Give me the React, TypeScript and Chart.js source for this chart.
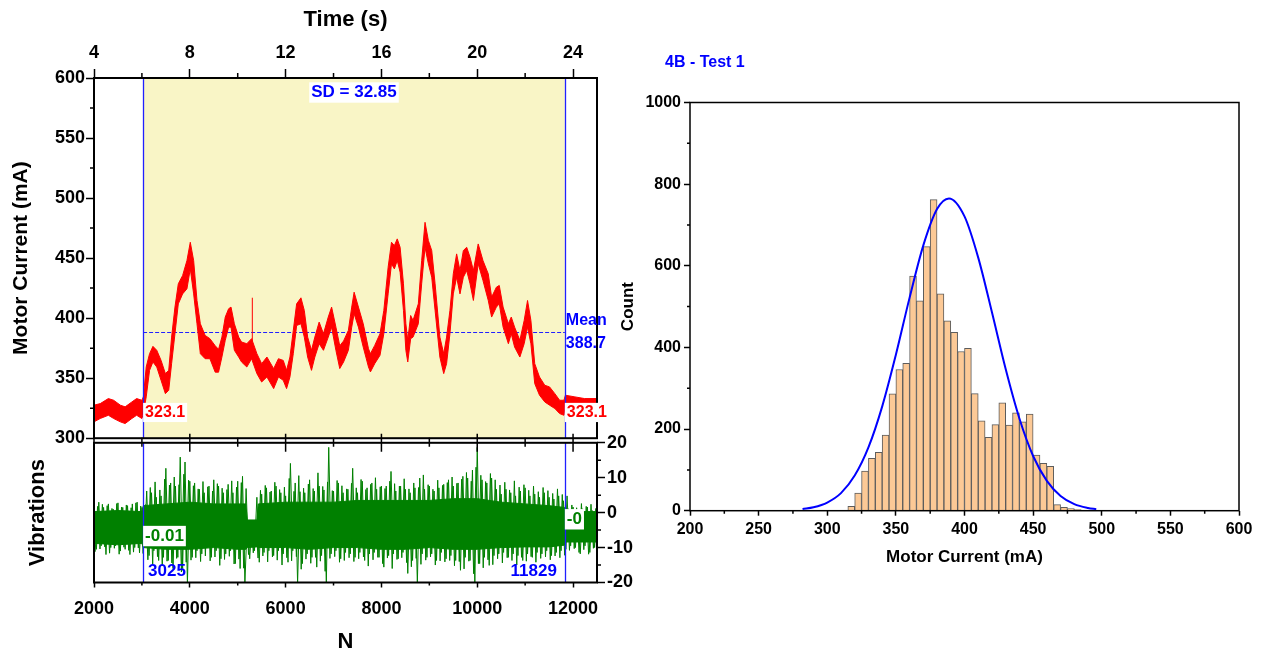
import React, { useEffect, useRef } from "react";
import { Chart, registerables } from "chart.js";

Chart.register(...registerables);

const FONT = "'Liberation Sans', Arial, Helvetica, sans-serif";
Chart.defaults.font.family = FONT;
Chart.defaults.color = "#000";

// ---------------- Top-left: motor current vs N (noisy band: upper / lower envelope) ----------------
const currentN = [
  2000, 2130, 2300, 2410, 2550, 2650, 2790, 2890, 3000, 3030,
  3090, 3160, 3230, 3310, 3400, 3490, 3560, 3620, 3690, 3760,
  3850, 3940, 4010, 4080, 4150, 4220, 4320, 4420, 4530, 4600,
  4670, 4740, 4810, 4860, 4930, 5020, 5080, 5190, 5290, 5400,
  5500, 5610, 5750, 5850, 5950, 6020, 6090, 6160, 6230, 6320,
  6390, 6460, 6540, 6610, 6700, 6790, 6890, 6960, 7050, 7130,
  7210, 7310, 7380, 7430, 7520, 7620, 7730, 7770, 7860, 7970,
  8050, 8140, 8210, 8270, 8330, 8390, 8460, 8510, 8550, 8610,
  8660, 8770, 8840, 8910, 8980, 9050, 9120, 9220, 9300, 9360,
  9430, 9500, 9570, 9640, 9710, 9780, 9850, 9920, 10020, 10120,
  10230, 10300, 10400, 10460, 10540, 10650, 10710, 10780, 10890, 10980,
  11050, 11120, 11200, 11300, 11410, 11510, 11620, 11720, 11810, 11840,
  12040, 12240, 12500,
];
const currentUpper = [
  327.5, 328.8, 333.0, 331.6, 327.5, 326.1, 330.2, 333.0, 331.6, 334.4,
  359.3, 370.4, 376.5, 373.2, 364.8, 353.8, 356.5, 384.2, 409.2, 428.6,
  435.5, 447.9, 463.2, 447.9, 414.7, 395.3, 385.6, 382.9, 377.0, 374.0,
  384.2, 400.9, 407.8, 409.2, 395.3, 384.2, 380.1, 378.7, 382.9, 370.4,
  362.1, 367.6, 357.9, 366.2, 364.8, 356.5, 367.6, 389.8, 411.9, 416.9,
  406.4, 384.2, 373.2, 384.2, 396.7, 387.0, 400.9, 409.2, 392.5, 377.0,
  381.0, 389.8, 409.2, 421.6, 409.2, 395.3, 374.5, 370.4, 377.3, 387.0,
  406.4, 442.4, 463.2, 460.4, 466.0, 459.0, 428.6, 395.3, 381.5, 402.2,
  398.1, 411.9, 447.9, 479.8, 464.6, 456.3, 428.6, 384.2, 370.4, 384.2,
  406.4, 436.9, 453.5, 439.6, 456.3, 459.0, 450.7, 439.6, 461.8, 447.9,
  436.9, 417.5, 425.8, 427.2, 409.2, 395.3, 400.9, 392.5, 381.5, 398.1,
  414.7, 398.1, 362.1, 351.0, 344.1, 342.7, 337.1, 331.6, 331.6, 335.8,
  334.4, 333.0, 333.0,
];
const currentLower = [
  313.6, 316.4, 319.1, 316.4, 313.6, 312.2, 316.4, 319.1, 316.4, 320.5,
  334.4, 356.5, 363.5, 359.3, 348.2, 337.1, 339.9, 362.1, 387.0, 411.9,
  420.2, 424.4, 441.0, 420.2, 395.3, 370.4, 366.2, 366.2, 355.0, 355.0,
  367.6, 381.5, 392.5, 392.5, 373.2, 367.6, 363.5, 359.3, 366.2, 353.8,
  346.8, 351.0, 341.3, 351.0, 348.2, 341.3, 351.0, 370.4, 393.9, 395.3,
  384.2, 367.6, 356.5, 367.6, 378.7, 373.2, 384.2, 392.5, 373.2, 358.0,
  363.5, 373.2, 392.5, 403.6, 392.5, 375.9, 359.3, 355.2, 362.1, 369.0,
  387.0, 420.2, 445.2, 441.0, 448.0, 438.3, 406.4, 373.2, 363.5, 382.9,
  384.2, 395.3, 428.6, 459.0, 445.2, 434.1, 406.4, 367.6, 353.8, 362.1,
  387.0, 420.2, 434.1, 420.2, 434.1, 439.6, 428.6, 414.7, 445.2, 431.3,
  414.7, 400.9, 409.2, 411.9, 392.5, 378.7, 387.0, 375.9, 367.6, 378.7,
  392.5, 378.7, 345.5, 335.8, 330.2, 327.5, 324.7, 320.5, 319.1, 328.8,
  328.8, 328.8, 328.8,
];
const spikeN = 5305;
const spikeRange = [380, 417];

const cursorStartN = 3025;
const cursorEndN = 11829;
const meanCurrent = 388.7;
const sdCurrent = 32.85;
const edgeCurrent = 323.1;

const timeTicks = [4, 8, 12, 16, 20, 24];
const timeMinor = [6, 10, 14, 18, 22];
const currentTicks = [300, 350, 400, 450, 500, 550, 600];
const currentMinor = [325, 375, 425, 475, 525, 575];
const nTicks = [2000, 4000, 6000, 8000, 10000, 12000];
const nMinor = [3000, 5000, 7000, 9000, 11000];

// ---------------- Bottom-left: vibrations vs N ----------------
// dense core of the signal
const vibCoreN = [2000, 2500, 3000, 3030, 3500, 4000, 4500, 5000, 5170, 5200, 5400, 5430, 6000, 6500, 7000, 7500, 8000, 8500, 9000, 9500, 10000, 10500, 11000, 11500, 11820, 11840, 12500];
const vibCoreTop = [0.3, 0.6, 0.3, 2.0, 2.5, 3.0, 2.5, 2.5, 2.5, -2.1, -2.1, 2.5, 3.0, 3.0, 3.0, 3.5, 3.5, 3.5, 3.5, 4.0, 4.0, 3.0, 2.5, 2.0, 1.5, 0.3, 0.3];
const vibCoreBottom = [-8.8, -9.2, -8.8, -10.0, -10.5, -10.5, -10.0, -10.5, -10.5, -10.0, -9.8, -10.0, -10.0, -10.5, -10.0, -10.0, -10.5, -10.5, -10.0, -10.5, -10.5, -10.0, -9.8, -9.8, -9.3, -8.4, -8.4];
// per-100-sample extremes (spikes)
const vibN = [
  2000, 2100, 2200, 2300, 2400, 2500, 2600, 2700, 2800, 2900,
  3000, 3100, 3200, 3300, 3400, 3500, 3600, 3700, 3800, 3900,
  4000, 4100, 4200, 4300, 4400, 4500, 4600, 4700, 4800, 4900,
  5000, 5100, 5200, 5300, 5400, 5500, 5600, 5700, 5800, 5900,
  6000, 6100, 6200, 6300, 6400, 6500, 6600, 6700, 6800, 6900,
  7000, 7100, 7200, 7300, 7400, 7500, 7600, 7700, 7800, 7900,
  8000, 8100, 8200, 8300, 8400, 8500, 8600, 8700, 8800, 8900,
  9000, 9100, 9200, 9300, 9400, 9500, 9600, 9700, 9800, 9900,
  10000, 10100, 10200, 10300, 10400, 10500, 10600, 10700, 10800, 10900,
  11000, 11100, 11200, 11300, 11400, 11500, 11600, 11700, 11800, 11900,
  12000, 12100, 12200, 12300, 12400, 12500,
];
const vibTop = [
  2.0, 3.0, 1.5, 2.5, 1.0, 2.8, 1.5, 2.0, 2.5, 3.0,
  1.5, 6.2, 5.7, 4.4, 4.8, 12.7, 8.5, 7.6, 15.9, 14.5,
  9.0, 8.5, 6.7, 5.7, 7.6, 9.4, 7.6, 5.7, 8.1, 5.7,
  9.0, 10.4, -2.1, -2.1, 4.4, 5.3, 7.1, 6.2, 7.6, 5.7,
  4.8, 14.1, 8.5, 6.0, 5.7, 9.4, 6.2, 7.6, 6.5, 18.7,
  6.2, 8.5, 5.7, 6.7, 12.7, 5.7, 9.0, 7.1, 8.5, 6.7,
  7.6, 7.6, 11.8, 6.2, 7.6, 6.7, 5.7, 7.1, 9.9, 6.7,
  7.6, 6.2, 7.1, 8.1, 9.4, 7.6, 8.5, 10.4, 9.9, 12.2,
  18.7, 9.4, 8.5, 9.9, 6.7, 5.3, 6.7, 5.7, 4.8, 6.2,
  7.1, 4.8, 5.3, 4.4, 5.7, 4.4, 3.9, 4.8, 3.4, 1.1,
  1.6, 0.6, 1.1, 1.6, 0.6, 1.1,
];
const vibBottom = [
  -10.5, -9.5, -12.0, -10.0, -9.5, -11.0, -10.5, -12.0, -10.0, -11.5,
  -10.0, -12.3, -10.9, -13.7, -12.8, -13.7, -16.0, -12.8, -16.0, -20.2,
  -12.8, -10.9, -11.8, -10.0, -12.8, -10.9, -13.2, -11.8, -10.9, -14.6,
  -16.0, -20.2, -13.2, -10.9, -14.2, -11.4, -10.9, -12.3, -10.9, -11.8,
  -14.2, -10.9, -20.2, -14.6, -11.8, -12.8, -15.6, -12.3, -20.2, -11.8,
  -10.9, -13.2, -11.4, -11.8, -12.8, -11.4, -13.7, -11.8, -11.4, -12.8,
  -15.6, -12.3, -11.8, -13.2, -11.4, -17.4, -13.7, -20.2, -11.8, -12.8,
  -11.8, -13.7, -11.4, -13.2, -12.3, -13.7, -16.5, -12.8, -13.7, -20.2,
  -14.6, -12.8, -15.1, -12.3, -11.8, -11.4, -12.8, -11.8, -12.3, -13.7,
  -11.8, -12.8, -11.4, -11.8, -10.9, -12.3, -11.4, -10.9, -10.5, -9.5,
  -10.0, -11.8, -9.5, -11.4, -10.0, -9.5,
];
// secondary (in-between) extremes, half a step later
const vibTop2 = [
  1.8, 2.4, 2.0, 1.2, 2.6, 1.6, 2.2, 1.4, 2.8, 1.9,
  2.3, 7.2, 8.8, 6.5, 9.6, 7.9, 10.2, 8.0, 11.0, 9.3,
  7.7, 6.8, 8.9, 7.4, 6.2, 8.3, 7.0, 6.6, 9.1, 7.3,
  8.6, 6.9, -2.1, -2.1, 6.4, 7.8, 5.9, 8.7, 6.6, 7.3,
  9.8, 6.1, 10.6, 7.0, 8.2, 6.9, 11.4, 7.5, 8.8, 6.3,
  9.2, 7.7, 6.8, 8.4, 7.1, 9.5, 6.6, 8.1, 10.0, 7.4,
  6.9, 9.0, 8.3, 7.6, 9.7, 6.8, 8.5, 7.2, 10.8, 8.0,
  6.7, 9.3, 7.8, 8.6, 10.2, 8.4, 9.6, 11.5, 9.0, 13.0,
  10.7, 8.9, 11.2, 9.4, 7.9, 8.7, 6.5, 9.1, 7.3, 8.0,
  6.4, 7.6, 6.0, 7.2, 6.3, 5.5, 6.8, 5.2, 4.8, 2.2,
  1.4, 2.6, 1.8, 2.4, 1.2, 2.0,
];
const vibBottom2 = [
  -11.2, -10.4, -9.8, -11.6, -10.2, -11.9, -9.9, -10.8, -11.3, -10.1,
  -11.7, -13.5, -14.8, -12.6, -15.2, -13.9, -14.4, -13.1, -17.0, -14.2,
  -13.6, -12.9, -14.0, -12.4, -13.8, -12.7, -15.1, -13.4, -12.5, -14.7,
  -13.3, -15.9, -12.0, -11.5, -13.0, -12.4, -14.1, -12.7, -13.6, -15.0,
  -12.9, -13.8, -12.6, -16.2, -13.3, -14.5, -12.8, -13.9, -16.8, -13.1,
  -12.6, -14.2, -13.7, -12.9, -14.0, -13.2, -12.7, -15.3, -13.5, -12.8,
  -14.6, -13.0, -16.0, -13.4, -12.9, -14.3, -15.5, -13.1, -14.8, -13.6,
  -12.7, -15.0, -13.8, -14.1, -13.7, -15.2, -14.0, -16.1, -13.9, -17.5,
  -14.6, -15.8, -13.5, -14.9, -13.2, -14.4, -12.9, -13.7, -15.0, -12.8,
  -13.9, -12.6, -14.2, -13.1, -12.7, -13.5, -12.4, -12.9, -12.2, -10.8,
  -10.3, -11.4, -10.6, -11.9, -10.2, -11.0,
];
const vibLeftLabel = "-0.01";
const vibRightLabel = "-0";
const vibTicks = [-20, -10, 0, 10, 20];
const vibMinor = [-15, -5, 5, 15];

// ---------------- Right: histogram of motor current ----------------
const histBinLeft = [
  315, 320, 325, 330, 335, 340, 345, 350, 355, 360,
  365, 370, 375, 380, 385, 390, 395, 400, 405, 410,
  415, 420, 425, 430, 435, 440, 445, 450, 455, 460,
  465, 470, 475, 480,
];
const histCounts = [
  11, 43, 97, 128, 143, 185, 286, 346, 361, 575,
  514, 647, 762, 531, 465, 437, 390, 398, 287, 220,
  180, 211, 264, 210, 240, 218, 237, 136, 116, 109,
  15, 8, 5, 3,
];
const histBinWidth = 5;
const fitX = [282, 290, 300, 310, 320, 330, 340, 350, 360, 370, 380, 388.7, 400, 410, 420, 430, 440, 450, 460, 470, 480, 490, 496];
const fitY = [3.9, 8.4, 20, 43, 86, 155, 255, 382, 522, 650, 739, 765, 721, 620, 486, 347, 226, 134, 73, 36, 16, 6.6, 3.7];
const histXTicks = [200, 250, 300, 350, 400, 450, 500, 550, 600];
const histXMinor = [225, 275, 325, 375, 425, 475, 525, 575];
const histYTicks = [0, 200, 400, 600, 800, 1000];
const histYMinor = [100, 300, 500, 700, 900];
const histTitle = "4B - Test 1";

const RED = "#ff0000";
const GREEN = "#008000";
const BLUE = "#0000ff";
const LINE_BLUE = "#2020ff";
const YELLOW = "#f9f5c6";

function fixedTicks(values: number[]) {
  return (s: any) => {
    s.ticks = values.map((v) => ({ value: v }));
  };
}

function drawMinor(ctx: any, scale: any, values: number[], side: string, len: number, ca: any) {
  ctx.save();
  ctx.strokeStyle = "#000";
  ctx.lineWidth = 1.5;
  ctx.beginPath();
  for (const v of values) {
    const p = scale.getPixelForValue(v);
    if (side === "left") { ctx.moveTo(ca.left - len, p); ctx.lineTo(ca.left, p); }
    if (side === "right") { ctx.moveTo(ca.right, p); ctx.lineTo(ca.right + len, p); }
    if (side === "top") { ctx.moveTo(p, ca.top - len); ctx.lineTo(p, ca.top); }
    if (side === "bottom") { ctx.moveTo(p, ca.bottom); ctx.lineTo(p, ca.bottom + len); }
  }
  ctx.stroke();
  ctx.restore();
}

function textBox(ctx: any, text: string, x: number, y: number, color: string, size: number, align: string, bg: boolean) {
  ctx.save();
  ctx.font = `bold ${size}px ${FONT}`;
  const w = ctx.measureText(text).width;
  const left = align === "left" ? x : align === "right" ? x - w : x - w / 2;
  if (bg) {
    ctx.fillStyle = "#fff";
    ctx.fillRect(left - 2, y - size * 0.6, w + 4, size * 1.2);
  }
  ctx.fillStyle = color;
  ctx.textAlign = "left";
  ctx.textBaseline = "middle";
  ctx.fillText(text, left, y);
  ctx.restore();
}

function frame(ctx: any, ca: any, lw: number) {
  ctx.save();
  ctx.strokeStyle = "#000";
  ctx.lineWidth = lw;
  ctx.strokeRect(ca.left, ca.top, ca.right - ca.left, ca.bottom - ca.top);
  ctx.restore();
}

function cursors(ctx: any, xs: any, ca: any) {
  ctx.save();
  ctx.strokeStyle = LINE_BLUE;
  ctx.lineWidth = 1.3;
  for (const n of [cursorStartN, cursorEndN]) {
    const p = Math.round(xs.getPixelForValue(n)) + 0.5;
    ctx.beginPath();
    ctx.moveTo(p, ca.top);
    ctx.lineTo(p, ca.bottom);
    ctx.stroke();
  }
  ctx.restore();
}

const tickFont = { size: 18, weight: "bold" as const };
const titleFont = { size: 22, weight: "bold" as const };

export default function App() {
  const refA = useRef<HTMLCanvasElement>(null);
  const refB = useRef<HTMLCanvasElement>(null);
  const refC = useRef<HTMLCanvasElement>(null);

  useEffect(() => {
    // ---------- Chart A ----------
    const decoA = {
      id: "decoA",
      beforeDatasetsDraw(chart: any) {
        const { ctx, chartArea: ca, scales } = chart;
        const x1 = scales.x.getPixelForValue(cursorStartN);
        const x2 = scales.x.getPixelForValue(cursorEndN);
        ctx.save();
        ctx.fillStyle = YELLOW;
        ctx.fillRect(x1, ca.top, x2 - x1, ca.bottom - ca.top);
        const ym = Math.round(scales.y.getPixelForValue(meanCurrent)) + 0.5;
        ctx.strokeStyle = LINE_BLUE;
        ctx.lineWidth = 1.2;
        ctx.setLineDash([4, 2]);
        ctx.beginPath();
        ctx.moveTo(x1, ym);
        ctx.lineTo(x2, ym);
        ctx.stroke();
        ctx.restore();
      },
      afterDatasetsDraw(chart: any) {
        const { ctx, chartArea: ca, scales } = chart;
        cursors(ctx, scales.x, ca);
        frame(ctx, ca, 2);
        drawMinor(ctx, scales.y, currentMinor, "left", 4, ca);
        drawMinor(ctx, scales.xt, timeMinor, "top", 5, ca);
        const x1 = scales.x.getPixelForValue(cursorStartN);
        const x2 = scales.x.getPixelForValue(cursorEndN);
        const ye = scales.y.getPixelForValue(edgeCurrent) + 2;
        textBox(ctx, String(edgeCurrent), x1 + 2, ye, RED, 16, "left", true);
        textBox(ctx, String(edgeCurrent), x2 + 2, ye, RED, 16, "left", true);
        const ym = scales.y.getPixelForValue(meanCurrent);
        textBox(ctx, "Mean", x2 + 1, ym - 11, BLUE, 16, "left", false);
        textBox(ctx, String(meanCurrent), x2 + 1, ym + 12, BLUE, 16, "left", false);
        textBox(ctx, "SD = " + sdCurrent, (x1 + x2) / 2, ca.top + 14.5, BLUE, 17, "center", true);
      },
    };

    const chartA = new Chart(refA.current as HTMLCanvasElement, {
      type: "line",
      data: {
        datasets: [
          {
            data: currentN.map((n, i) => ({ x: n, y: currentUpper[i] })),
            borderColor: RED, borderWidth: 1, pointRadius: 0, fill: false, xAxisID: "x", yAxisID: "y",
          },
          {
            data: currentN.map((n, i) => ({ x: n, y: currentLower[i] })),
            borderColor: RED, borderWidth: 1, pointRadius: 0, fill: "-1", backgroundColor: RED, xAxisID: "x", yAxisID: "y",
          },
          {
            data: spikeRange.map((v) => ({ x: spikeN, y: v })),
            borderColor: RED, borderWidth: 1, pointRadius: 0, fill: false, xAxisID: "x", yAxisID: "y",
          },
        ],
      },
      options: {
        responsive: false,
        animation: false,
        events: [],
        layout: { padding: { left: 0, top: 0, right: 23, bottom: 11 } },
        plugins: { legend: { display: false }, tooltip: { enabled: false } },
        scales: {
          x: { type: "linear", display: false, min: 2000, max: 12500 },
          xt: {
            type: "linear", position: "top", min: 4, max: 25,
            afterBuildTicks: fixedTicks(timeTicks),
            afterFit: (s: any) => { s.height = 78; },
            ticks: { font: tickFont, color: "#000", padding: 5, maxRotation: 0, autoSkip: false, callback: (v: any) => String(v) },
            grid: { display: true, drawOnChartArea: false, drawTicks: true, tickLength: 9, tickColor: "#000", tickWidth: 1.5 },
            border: { display: false },
            title: { display: true, text: "Time (s)", font: titleFont, color: "#000", padding: { top: 7, bottom: 0 } },
          },
          y: {
            type: "linear", position: "left", min: 300, max: 600,
            afterBuildTicks: fixedTicks(currentTicks),
            afterFit: (s: any) => { s.width = 94; },
            ticks: { font: tickFont, color: "#000", padding: 1, autoSkip: false, callback: (v: any) => String(v) },
            grid: { display: true, drawOnChartArea: false, drawTicks: true, tickLength: 8, tickColor: "#000", tickWidth: 1.5 },
            border: { display: false },
            title: { display: true, text: "Motor Current (mA)", font: { size: 21, weight: "bold" }, color: "#000", padding: { top: 9, bottom: 0 } },
          },
        },
      } as any,
      plugins: [decoA],
    });

    // ---------- Chart B ----------
    const zig: { x: number; y: number }[] = [];
    vibN.forEach((n, i) => {
      zig.push({ x: n, y: vibTop[i] });
      zig.push({ x: n + 50, y: vibBottom[i] });
    });
    const zig2: { x: number; y: number }[] = [];
    vibN.forEach((n, i) => {
      zig2.push({ x: n + 25, y: vibBottom2[i] });
      zig2.push({ x: n + 75, y: vibTop2[i] });
    });

    const decoB = {
      id: "decoB",
      afterDatasetsDraw(chart: any) {
        const { ctx, chartArea: ca, scales } = chart;
        cursors(ctx, scales.x, ca);
        frame(ctx, ca, 2);
        drawMinor(ctx, scales.yr, vibMinor, "right", 4, ca);
        drawMinor(ctx, scales.x, nMinor, "bottom", 3, ca);
        // ticks crossing the shared border between the two panels
        ctx.save();
        ctx.strokeStyle = "#000";
        ctx.lineWidth = 1.5;
        ctx.beginPath();
        for (const v of nTicks) {
          const p = scales.x.getPixelForValue(v);
          ctx.moveTo(p, ca.top - 9);
          ctx.lineTo(p, ca.top + 9);
        }
        for (const v of nMinor) {
          const p = scales.x.getPixelForValue(v);
          ctx.moveTo(p, ca.top - 5);
          ctx.lineTo(p, ca.top + 4);
        }
        ctx.stroke();
        ctx.restore();
        const x1 = scales.x.getPixelForValue(cursorStartN);
        const x2 = scales.x.getPixelForValue(cursorEndN);
        const yr = scales.yr;
        textBox(ctx, vibLeftLabel, x1 + 2, yr.getPixelForValue(-6.7), GREEN, 17, "left", true);
        textBox(ctx, vibRightLabel, x2 + 2, yr.getPixelForValue(-1.9), GREEN, 17, "left", true);
        textBox(ctx, String(cursorStartN), x1 + 5, yr.getPixelForValue(-16.8), BLUE, 17, "left", false);
        textBox(ctx, String(cursorEndN), x2 - 8, yr.getPixelForValue(-16.8), BLUE, 17, "right", false);
      },
    };

    const chartB = new Chart(refB.current as HTMLCanvasElement, {
      type: "line",
      data: {
        datasets: [
          {
            data: vibCoreN.map((n, i) => ({ x: n, y: vibCoreTop[i] })),
            borderColor: GREEN, borderWidth: 1, pointRadius: 0, fill: false,
            xAxisID: "x", yAxisID: "yr",
          },
          {
            data: vibCoreN.map((n, i) => ({ x: n, y: vibCoreBottom[i] })),
            borderColor: GREEN, borderWidth: 1, pointRadius: 0, fill: "-1", backgroundColor: GREEN,
            xAxisID: "x", yAxisID: "yr",
          },
          {
            data: zig,
            borderColor: GREEN, borderWidth: 1, pointRadius: 0, fill: false,
            xAxisID: "x", yAxisID: "yr",
          },
          {
            data: zig2,
            borderColor: GREEN, borderWidth: 1, pointRadius: 0, fill: false,
            xAxisID: "x", yAxisID: "yr",
          },
        ],
      },
      options: {
        responsive: false,
        animation: false,
        events: [],
        layout: { padding: { left: 0, top: 9, right: 0, bottom: 0 } },
        plugins: { legend: { display: false }, tooltip: { enabled: false } },
        scales: {
          x: {
            type: "linear", position: "bottom", min: 2000, max: 12500,
            afterBuildTicks: fixedTicks(nTicks),
            afterFit: (s: any) => { s.height = 74.5; },
            ticks: { font: tickFont, color: "#000", padding: 11, maxRotation: 0, autoSkip: false, callback: (v: any) => String(v) },
            grid: { display: true, drawOnChartArea: false, drawTicks: true, tickLength: 5, tickColor: "#000", tickWidth: 1.5 },
            border: { display: false },
            title: { display: true, text: "N", font: titleFont, color: "#000", padding: { top: 0, bottom: 2 } },
          },
          yl: {
            type: "linear", position: "left", min: -20, max: 20,
            afterFit: (s: any) => { s.width = 94; },
            ticks: { display: false },
            grid: { display: false },
            border: { display: false },
            title: { display: true, text: "Vibrations", font: titleFont, color: "#000", padding: { top: 25, bottom: 0 } },
          },
          yr: {
            type: "linear", position: "right", min: -20, max: 20,
            afterBuildTicks: fixedTicks(vibTicks),
            afterFit: (s: any) => { s.width = 43; },
            ticks: { font: tickFont, color: "#000", padding: 2, autoSkip: false, callback: (v: any) => String(v) },
            grid: { display: true, drawOnChartArea: false, drawTicks: true, tickLength: 8, tickColor: "#000", tickWidth: 1.5 },
            border: { display: false },
          },
        },
      } as any,
      plugins: [decoB],
    });

    // ---------- Chart C ----------
    const decoC = {
      id: "decoC",
      afterDatasetsDraw(chart: any) {
        const { ctx, chartArea: ca, scales } = chart;
        frame(ctx, ca, 1.5);
        drawMinor(ctx, scales.y, histYMinor, "left", 3, ca);
        drawMinor(ctx, scales.x, histXMinor, "bottom", 3, ca);
        textBox(ctx, histTitle, 55, 23, BLUE, 16, "left", false);
      },
    };

    const chartC = new Chart(refC.current as HTMLCanvasElement, {
      type: "bar",
      data: {
        datasets: [
          {
            type: "bar",
            data: histBinLeft.map((l, i) => ({ x: l + histBinWidth / 2, y: histCounts[i] })),
            backgroundColor: "#fcc996",
            borderColor: "#5c5c5c",
            borderWidth: 1,
            barPercentage: 1,
            categoryPercentage: 1,
            grouped: false,
            order: 2,
          },
          {
            type: "line",
            data: fitX.map((x, i) => ({ x, y: fitY[i] })),
            borderColor: BLUE,
            borderWidth: 2,
            pointRadius: 0,
            cubicInterpolationMode: "monotone",
            fill: false,
            order: 1,
          },
        ],
      },
      options: {
        responsive: false,
        animation: false,
        events: [],
        layout: { padding: { left: 0, top: 62.5, right: 30, bottom: 0 } },
        plugins: { legend: { display: false }, tooltip: { enabled: false } },
        scales: {
          x: {
            type: "linear", position: "bottom", min: 200, max: 600, offset: false,
            afterBuildTicks: fixedTicks(histXTicks),
            afterFit: (s: any) => { s.height = 69.3; },
            ticks: { font: { size: 16, weight: "bold" }, color: "#000", padding: 4, maxRotation: 0, autoSkip: false, callback: (v: any) => String(v) },
            grid: { display: true, offset: false, drawOnChartArea: false, drawTicks: true, tickLength: 5, tickColor: "#000", tickWidth: 1.5 },
            border: { display: false },
            title: { display: true, text: "Motor Current (mA)", font: { size: 17, weight: "bold" }, color: "#000", padding: { top: 0, bottom: 12.8 } },
          },
          y: {
            type: "linear", position: "left", min: 0, max: 1000,
            afterBuildTicks: fixedTicks(histYTicks),
            afterFit: (s: any) => { s.width = 80; },
            ticks: { font: { size: 16, weight: "bold" }, color: "#000", padding: 3, autoSkip: false, callback: (v: any) => String(v) },
            grid: { display: true, drawOnChartArea: false, drawTicks: true, tickLength: 6, tickColor: "#000", tickWidth: 1.5 },
            border: { display: false },
            title: { display: true, text: "Count", font: { size: 17, weight: "bold" }, color: "#000", padding: { top: 7.8, bottom: 0 } },
          },
        },
      } as any,
      plugins: [decoC],
    });

    return () => {
      chartA.destroy();
      chartB.destroy();
      chartC.destroy();
    };
  }, []);

  return (
    <div style={{ position: "absolute", left: 0, top: 0, width: 1269, height: 657, background: "#fff", overflow: "hidden" }}>
      <canvas ref={refA} width={620} height={450} style={{ position: "absolute", left: 0, top: 0, width: 620, height: 450 }} />
      <canvas ref={refB} width={640} height={227} style={{ position: "absolute", left: 0, top: 430, width: 640, height: 227 }} />
      <canvas ref={refC} width={659} height={540} style={{ position: "absolute", left: 610, top: 40, width: 659, height: 540 }} />
    </div>
  );
}
